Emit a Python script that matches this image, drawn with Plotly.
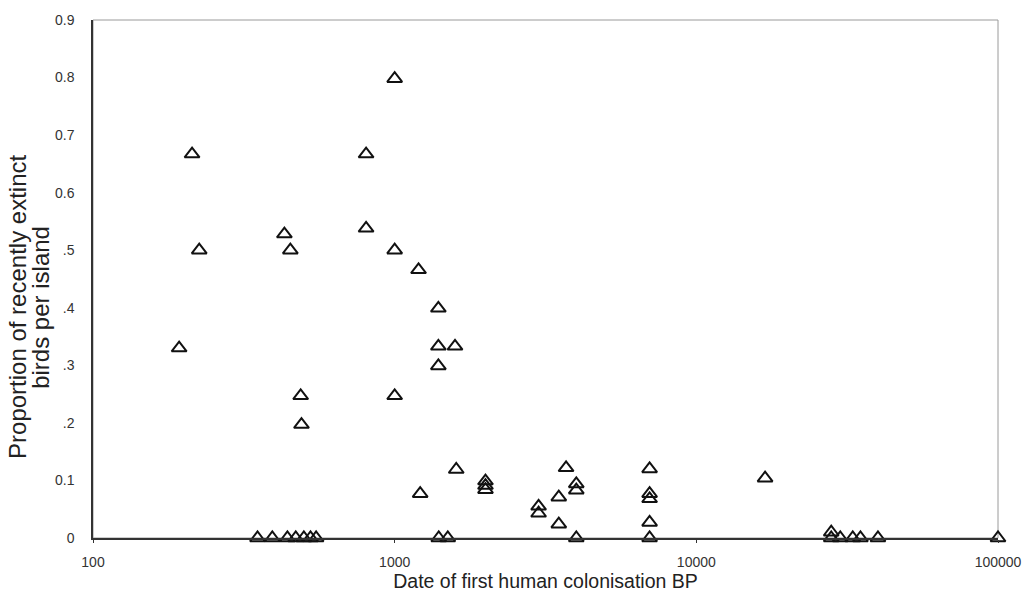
import plotly.graph_objects as go

# Date of first human colonisation (years BP) and proportion of recently extinct birds
colonisation_bp = [
    193, 213, 225, 431, 451, 488, 491, 804, 804,
    1000, 1000, 1000, 1200, 1215, 1396, 1396, 1396, 1585, 1600,
    2000, 2000, 2000, 3000, 3000, 3500, 3500, 3700,
    4000, 4000, 4000, 7000, 7000, 7000, 7000, 7000, 16900,
    351, 393, 441, 470, 500, 526, 549, 1400, 1500,
    28000, 28000, 30000, 33000, 35000, 40000, 100000,
]
proportion_extinct = [
    0.330, 0.667, 0.500, 0.528, 0.500, 0.247, 0.197, 0.667, 0.538,
    0.798, 0.500, 0.247, 0.466, 0.077, 0.399, 0.333, 0.299, 0.333, 0.119,
    0.099, 0.091, 0.084, 0.055, 0.043, 0.071, 0.024, 0.122,
    0.094, 0.083, 0.0, 0.120, 0.077, 0.068, 0.027, 0.0, 0.104,
    0.0, 0.0, 0.0, 0.0, 0.0, 0.0, 0.0, 0.0, 0.0,
    0.010, 0.0, 0.0, 0.0, 0.0, 0.0, 0.0,
]

y_tick_vals = [0, 0.1, 0.2, 0.3, 0.4, 0.5, 0.6, 0.7, 0.8, 0.9]
y_tick_text = ["0", "0.1", ".2", ".3", ".4", ".5", "0.6", "0.7", "0.8", "0.9"]
x_tick_vals = [100, 1000, 10000, 100000]
x_tick_text = ["100", "1000", "10000", "100000"]

FONT = "Arial, Liberation Sans, sans-serif"

fig = go.Figure()
fig.add_trace(go.Scatter(
    x=colonisation_bp,
    y=proportion_extinct,
    mode="markers",
    marker=dict(symbol="triangle-up-open", size=13, color="#111111",
                line=dict(width=2, color="#111111")),
    cliponaxis=False,
    showlegend=False,
))

# light grey frame for top/right edges
fig.add_shape(type="rect", xref="paper", yref="paper", x0=0, y0=0, x1=1, y1=1,
              line=dict(color="#9a9a9a", width=1), layer="below")

fig.update_layout(
    width=1034, height=613,
    margin=dict(l=93, r=30, t=16, b=75),
    paper_bgcolor="white", plot_bgcolor="white",
    font=dict(family=FONT, color="#222222"),
    xaxis=dict(
        type="log", range=[2, 5],
        tickvals=x_tick_vals, ticktext=x_tick_text,
        showgrid=False, zeroline=False,
        showline=True, linecolor="#333333", linewidth=1.5,
        ticks="outside", ticklen=3, tickcolor="#333333",
        ticklabelstandoff=7,
        tickfont=dict(size=14, color="#333333"),
        title=dict(text="Date of first human colonisation BP",
                   font=dict(size=19.5, color="#222222"), standoff=4),
    ),
    yaxis=dict(
        range=[0, 0.9],
        tickvals=y_tick_vals, ticktext=y_tick_text,
        showgrid=False, zeroline=False,
        showline=True, linecolor="#333333", linewidth=1.5,
        ticks="", ticklabelstandoff=14,
        tickfont=dict(size=14, color="#333333"),
    ),
)

# two-line rotated y-axis title, lines placed individually for tight line spacing
title_lines = ["Proportion of recently extinct", "birds per island"]
title_x_px = [17.5, 40.5]
plot_w = 1034 - 93 - 30
for line, px in zip(title_lines, title_x_px):
    fig.add_annotation(
        text=line, xref="paper", yref="paper",
        x=(px - 93) / plot_w, y=0.446,
        xanchor="center", yanchor="middle", textangle=-90, showarrow=False,
        font=dict(size=24, color="#222222", family=FONT),
    )

fig.write_html("out.html")
